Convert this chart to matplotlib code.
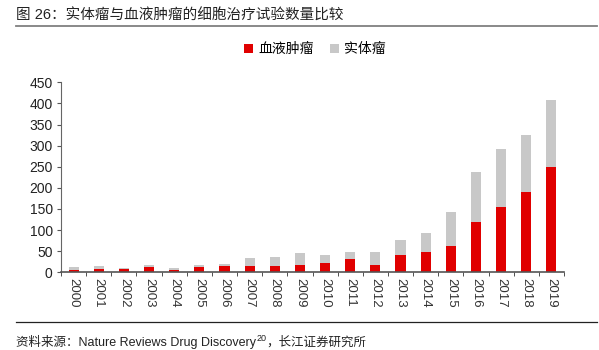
import matplotlib
matplotlib.use("Agg")
import matplotlib.pyplot as plt
import numpy as np

plt.rcParams['font.family'] = ['Noto Sans CJK SC', 'DejaVu Sans']

years = [str(y) for y in range(2000, 2020)]
blood = [6, 9, 7, 12, 6, 12, 14, 16, 16, 18, 22, 32, 18, 40, 49, 63, 118, 155, 190, 250]
solid = [6, 6, 3, 5, 4, 5, 6, 17, 20, 27, 19, 16, 29, 37, 44, 81, 119, 136, 135, 157]
yticks = [0, 50, 100, 150, 200, 250, 300, 350, 400, 450]

RED = '#E00000'
GRAY = '#C8C8C8'
MIX = ['Liberation Sans', 'Noto Sans CJK SC']

W, H = 599, 350
fig = plt.figure(figsize=(W / 100, H / 100), dpi=100)

ax = fig.add_axes([61 / W, 1 - 272.3 / H, 503 / W, 190 / H])
x = np.arange(len(years))
ax.bar(x, blood, width=0.4, color=RED, label='血液肿瘤', zorder=2)
ax.bar(x, solid, width=0.4, bottom=blood, color=GRAY, label='实体瘤', zorder=2)

ax.set_xlim(-0.5, len(years) - 0.5)
ax.set_ylim(0, 450)
ax.set_yticks(yticks)
ax.set_yticklabels([str(v) for v in yticks], fontsize=10, family='Liberation Sans')
ax.set_xticks(x)
ax.set_xticklabels(years, rotation=270, fontsize=9.5, family='Liberation Sans')
ax.tick_params(axis='x', length=0, pad=4, colors='#333333')
ax.set_xticks(np.arange(-0.5, len(years), 1.0), minor=True)
ax.tick_params(axis='x', which='minor', length=3, direction='out', color='#333333')
ax.tick_params(axis='y', length=3, direction='out', color='#555555', colors='#222222', pad=3)
for s in ['top', 'right']:
    ax.spines[s].set_visible(False)
ax.spines['left'].set_color('#666666')
ax.spines['bottom'].set_color('#555555')
ax.spines['bottom'].set_linewidth(1.2)

leg = ax.legend(loc='lower center', ncol=2, frameon=False, fontsize=10, handlelength=0.6,
                handleheight=0.6, handletextpad=0.4, columnspacing=1.2, borderaxespad=0,
                borderpad=0)
leg.set_bbox_to_anchor((315 / W, 1 - 56 / H), transform=fig.transFigure)

fig.text(16 / W, 1 - 16 / H, '图 26：实体瘤与血液肿瘤的细胞治疗试验数量比较', fontsize=10.5,
         va='center', ha='left', color='#222222', family=MIX)
fig.add_artist(plt.Line2D([16 / W, 597 / W], [1 - 25.5 / H, 1 - 25.5 / H], transform=fig.transFigure,
                          color='#808080', linewidth=1.3))
fig.add_artist(plt.Line2D([16 / W, 597 / W], [1 - 322 / H, 1 - 322 / H], transform=fig.transFigure,
                          color='#222222', linewidth=0.9))

# source line built from pieces (superscript)
base_y = 1 - 346 / H
t1 = fig.text(16 / W, base_y, '资料来源：Nature Reviews Drug Discovery', fontsize=9,
              va='baseline', ha='left', color='#222222', family=MIX)
fig.canvas.draw()
r = fig.canvas.get_renderer()
bb1 = t1.get_window_extent(r)
t2 = fig.text(bb1.x1 / W + 0.5 / W, base_y + 5 / H, '20', fontsize=6.5,
              va='baseline', ha='left', color='#222222', family=MIX)
bb2 = t2.get_window_extent(r)
fig.text(bb2.x1 / W, base_y, '，长江证券研究所', fontsize=9,
         va='baseline', ha='left', color='#222222', family=MIX)

fig.savefig('out.png', dpi=100)
